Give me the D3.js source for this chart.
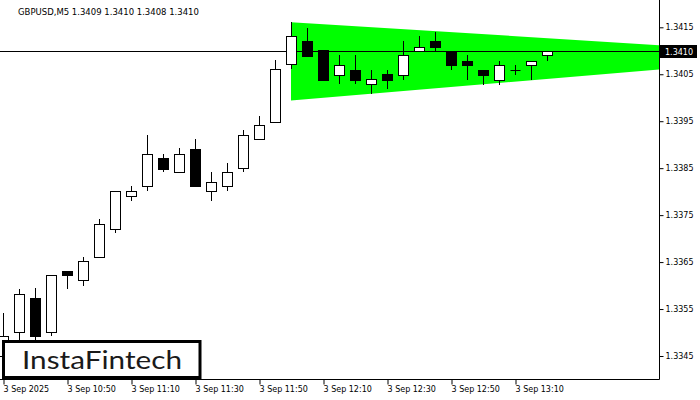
<!DOCTYPE html>
<html>
<head>
<meta charset="utf-8">
<script src="https://cdn.jsdelivr.net/npm/d3@7"></script>
<style>
html,body{margin:0;padding:0;background:#fff;}
svg{display:block;}
</style>
</head>
<body>
<svg id="chart" width="700" height="400"></svg>
<script>
// ---- data ----
const symbolTitle = "GBPUSD,M5  1.3409 1.3410 1.3408 1.3410";
const times  = ["10:30","10:35","10:40","10:45","10:50","10:55","11:00","11:05","11:10","11:15","11:20","11:25","11:30","11:35","11:40","11:45","11:50","11:55","12:00","12:05","12:10","12:15","12:20","12:25","12:30","12:35","12:40","12:45","12:50","12:55","13:00","13:05","13:10","13:15","13:20"];
const opens  = [1.33450,1.33501,1.33573,1.33501,1.33632,1.33612,1.33661,1.33720,1.33790,1.33812,1.33872,1.33841,1.33891,1.33801,1.33812,1.33850,1.33912,1.33949,1.34071,1.34120,1.34101,1.34049,1.34060,1.34029,1.34050,1.34049,1.34100,1.34120,1.34100,1.34079,1.34060,1.34037,1.34060,1.34069,1.34090];
const highs  = [1.33542,1.33593,1.33595,1.33623,1.33632,1.33661,1.33742,1.33802,1.33812,1.33921,1.33881,1.33892,1.33912,1.33842,1.33861,1.33931,1.33961,1.34080,1.34161,1.34149,1.34101,1.34090,1.34090,1.34060,1.34060,1.34120,1.34131,1.34140,1.34100,1.34090,1.34060,1.34079,1.34070,1.34079,1.34100];
const lows   = [1.33440,1.33480,1.33480,1.33492,1.33593,1.33600,1.33661,1.33712,1.33781,1.33801,1.33841,1.33841,1.33811,1.33781,1.33801,1.33841,1.33912,1.33949,1.34061,1.34089,1.34038,1.34029,1.34029,1.34007,1.34018,1.34037,1.34100,1.34100,1.34059,1.34037,1.34028,1.34028,1.34048,1.34037,1.34079];
const closes = [1.33493,1.33582,1.33492,1.33623,1.33622,1.33653,1.33731,1.33802,1.33801,1.33880,1.33849,1.33880,1.33811,1.33821,1.33842,1.33920,1.33942,1.34061,1.34131,1.34089,1.34038,1.34070,1.34037,1.34039,1.34037,1.34090,1.34109,1.34108,1.34069,1.34069,1.34048,1.34070,1.34060,1.34079,1.34100];

const triTimes = ["12:00","13:55"];
const triUpper = [1.34161, 1.34112];
const triLower = [1.33994, 1.34060];

const currentPrice = 1.3410;
const yTicks = [1.3415,1.3405,1.3395,1.3385,1.3375,1.3365,1.3355,1.3345];
const xTickTimes  = ["10:30","10:50","11:10","11:30","11:50","12:10","12:30","12:50","13:10"];
const xTickLabels = ["3 Sep 2025","3 Sep 10:50","3 Sep 11:10","3 Sep 11:30","3 Sep 11:50","3 Sep 12:10","3 Sep 12:30","3 Sep 12:50","3 Sep 13:10"];
const logoText = "InstaFintech";

// ---- layout ----
const W = 700, H = 400;
const plotRight = 659.5, plotBottom = 379.5;
const toMin = t => { const [h,m] = t.split(":").map(Number); return (h-10)*60 + m - 30; };

const x = d3.scaleLinear().domain([0, 205]).range([3, 659]);
const y = d3.scaleLinear().domain([1.3415, 1.3345]).range([27.3, 356]);

const svg = d3.select("#chart");
svg.append("rect").attr("width",W).attr("height",H).attr("fill","#fff");

svg.append("defs").append("clipPath").attr("id","plotclip")
  .append("rect").attr("x",0).attr("y",0).attr("width",plotRight).attr("height",plotBottom);

const plot = svg.append("g").attr("clip-path","url(#plotclip)");

// triangle pattern
const triPts = [
  [x(toMin(triTimes[0])), y(triUpper[0])],
  [x(toMin(triTimes[1])), y(triUpper[1])],
  [x(toMin(triTimes[1])), y(triLower[1])],
  [x(toMin(triTimes[0])), y(triLower[0])]
];
plot.append("path")
  .attr("d", d3.line()(triPts) + "Z")
  .attr("fill","#00ff00");

// current price line
plot.append("line")
  .attr("x1",0).attr("x2",plotRight)
  .attr("y1",Math.round(y(currentPrice))+0.5).attr("y2",Math.round(y(currentPrice))+0.5)
  .attr("stroke","#000").attr("stroke-width",1);

// candles
const candles = times.map((t,i)=>({t, o:opens[i], h:highs[i], l:lows[i], c:closes[i]}));
const cg = plot.append("g");
candles.forEach(d=>{
  const cx = Math.round(x(toMin(d.t))) + 0.5;
  cg.append("line")
    .attr("x1",cx).attr("x2",cx)
    .attr("y1",Math.round(y(d.h))).attr("y2",Math.round(y(d.l)))
    .attr("stroke","#000").attr("stroke-width",1);
  const top = Math.round(y(Math.max(d.o,d.c)));
  const bot = Math.round(y(Math.min(d.o,d.c)));
  if (bot - top < 1) {
    cg.append("line")
      .attr("x1",cx-5).attr("x2",cx+5)
      .attr("y1",top+0.5).attr("y2",top+0.5)
      .attr("stroke","#000").attr("stroke-width",1);
  } else {
    cg.append("rect")
      .attr("x",cx-5).attr("y",top+0.5)
      .attr("width",10).attr("height",bot-top)
      .attr("fill", d.c >= d.o ? "#fff" : "#000")
      .attr("stroke","#000").attr("stroke-width",1);
  }
});

// borders
svg.append("line").attr("x1",plotRight).attr("x2",plotRight).attr("y1",0).attr("y2",plotBottom)
  .attr("stroke","#000").attr("stroke-width",1);
svg.append("line").attr("x1",0).attr("x2",plotRight).attr("y1",plotBottom).attr("y2",plotBottom)
  .attr("stroke","#000").attr("stroke-width",1);

const fontFam = "'DejaVu Sans', Tahoma, sans-serif";

// y axis
const yAxis = d3.axisRight(y).tickValues(yTicks).tickFormat(d3.format(".4f"))
  .tickSizeInner(4).tickSizeOuter(0).tickPadding(2);
const ya = svg.append("g").attr("transform",`translate(${plotRight},0)`).call(yAxis);
ya.select(".domain").remove();
ya.selectAll("line").attr("stroke","#000");
ya.selectAll("text").attr("font-family",fontFam).attr("font-size","8px").attr("fill","#000");

// x axis
const xAxis = d3.axisBottom(x).tickValues(xTickTimes.map(toMin))
  .tickFormat((d,i)=>xTickLabels[i]).tickSizeInner(5).tickSizeOuter(0).tickPadding(2);
const xa = svg.append("g").attr("transform",`translate(0.5,${plotBottom})`).call(xAxis);
xa.select(".domain").remove();
xa.selectAll("line").attr("stroke","#000");
xa.selectAll("text").attr("font-family",fontFam).attr("font-size","8px").attr("fill","#000")
  .attr("text-anchor","start").attr("dx","-0.5");

// current price label
const py = Math.round(y(currentPrice));
svg.append("rect").attr("x",660).attr("y",py-6).attr("width",37).attr("height",13).attr("fill","#000");
svg.append("text").attr("x",665).attr("y",py+3.5)
  .attr("font-family",fontFam).attr("font-size","8px").attr("fill","#fff")
  .text(d3.format(".4f")(currentPrice));

// header
svg.append("text").attr("x",18).attr("y",14.5)
  .attr("font-family",fontFam).attr("font-size","8.5px").attr("fill","#000")
  .text(symbolTitle);

// logo
svg.append("rect").attr("x",3.5).attr("y",341.5).attr("width",196.5).attr("height",36)
  .attr("fill","#fff").attr("stroke","#000").attr("stroke-width",3);
svg.append("text").attr("x",22).attr("y",368.5)
  .attr("font-family","Lato, 'Open Sans', sans-serif").attr("font-size","25px").attr("fill","#1a1a1a")
  .attr("textLength",160).attr("lengthAdjust","spacingAndGlyphs")
  .text(logoText);
</script>
</body>
</html>
